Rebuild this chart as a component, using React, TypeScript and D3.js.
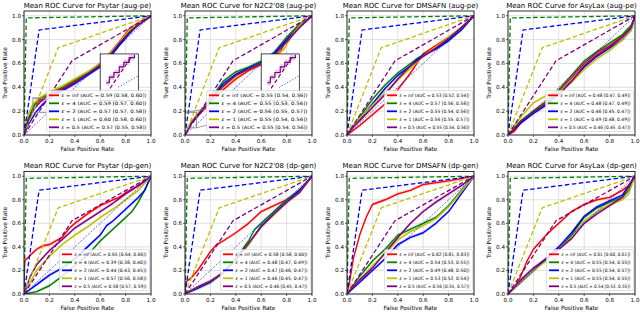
import React from 'react';
import * as d3 from 'd3';

type Pt = [number, number];

const epsilons = ['inf', '4', '2', '1', '0.5'];
const curveColors = ['#ff0000', '#008000', '#0000ff', '#bfbf00', '#800080'];
const axisTicks = [0, 0.2, 0.4, 0.6, 0.8, 1.0];
const datasets = ['Psytar', "N2C2'08", 'DMSAFN', 'AsyLax'];
const methods = ['aug-pe', 'dp-gen'];

// dashed DP bound lines for eps = 4, 2, 1, 0.5
const boundColors = ['#008000', '#0000ff', '#bfbf00', '#800080'];
const boundEps4: Pt[] = [[0, 0], [0.018, 0.982], [1, 1]];
const boundEps2: Pt[] = [[0, 0], [0.119, 0.881], [1, 1]];
const boundEps1: Pt[] = [[0, 0], [0.269, 0.731], [1, 1]];
const boundEps05: Pt[] = [[0, 0], [0.378, 0.622], [1, 1]];
const chanceLine: Pt[] = [[0, 0], [1, 1]];

// ---- aug-pe curves (inf, 4, 2, 1, 0.5)
const psytarAugPe: Pt[][] = [
  [[0, 0], [0.03, 0.12], [0.08, 0.24], [0.12, 0.29], [0.2, 0.34], [0.3, 0.39], [0.4, 0.45], [0.5, 0.52], [0.6, 0.6], [0.67, 0.68], [0.75, 0.78], [0.82, 0.88], [0.9, 0.94], [1, 1]],
  [[0, 0], [0.03, 0.13], [0.08, 0.25], [0.12, 0.3], [0.2, 0.35], [0.3, 0.4], [0.4, 0.46], [0.5, 0.52], [0.6, 0.59], [0.68, 0.67], [0.75, 0.76], [0.83, 0.87], [0.9, 0.93], [1, 1]],
  [[0, 0], [0.04, 0.1], [0.1, 0.2], [0.15, 0.26], [0.2, 0.31], [0.3, 0.37], [0.4, 0.43], [0.5, 0.5], [0.6, 0.57], [0.66, 0.63], [0.75, 0.75], [0.83, 0.85], [0.9, 0.93], [1, 1]],
  [[0, 0], [0.02, 0.14], [0.07, 0.26], [0.12, 0.31], [0.2, 0.36], [0.3, 0.41], [0.4, 0.47], [0.5, 0.53], [0.6, 0.6], [0.68, 0.69], [0.75, 0.78], [0.83, 0.88], [0.9, 0.94], [1, 1]],
  [[0, 0], [0.03, 0.11], [0.08, 0.22], [0.13, 0.28], [0.2, 0.33], [0.3, 0.38], [0.4, 0.44], [0.5, 0.51], [0.6, 0.58], [0.67, 0.66], [0.75, 0.77], [0.83, 0.86], [0.9, 0.92], [1, 1]],
];
const n2c2AugPe: Pt[][] = [
  [[0, 0], [0.05, 0.1], [0.1, 0.16], [0.2, 0.27], [0.3, 0.38], [0.4, 0.47], [0.5, 0.54], [0.6, 0.59], [0.7, 0.66], [0.75, 0.7], [0.8, 0.8], [0.9, 0.92], [1, 1]],
  [[0, 0], [0.05, 0.11], [0.1, 0.17], [0.2, 0.3], [0.3, 0.45], [0.4, 0.53], [0.5, 0.57], [0.6, 0.62], [0.7, 0.69], [0.8, 0.82], [0.9, 0.93], [1, 1]],
  [[0, 0], [0.05, 0.1], [0.1, 0.16], [0.2, 0.29], [0.3, 0.43], [0.4, 0.51], [0.5, 0.56], [0.6, 0.61], [0.7, 0.68], [0.8, 0.8], [0.9, 0.91], [1, 1]],
  [[0, 0], [0.05, 0.11], [0.1, 0.18], [0.2, 0.28], [0.3, 0.4], [0.4, 0.49], [0.5, 0.55], [0.6, 0.6], [0.7, 0.65], [0.78, 0.72], [0.85, 0.85], [0.93, 0.95], [1, 1]],
  [[0, 0], [0.05, 0.1], [0.1, 0.17], [0.2, 0.29], [0.3, 0.41], [0.4, 0.5], [0.5, 0.55], [0.6, 0.6], [0.7, 0.67], [0.8, 0.78], [0.9, 0.9], [1, 1]],
];
const dmsafnAugPe: Pt[][] = [
  [[0, 0], [0.05, 0.04], [0.1, 0.08], [0.2, 0.17], [0.3, 0.26], [0.4, 0.38], [0.5, 0.52], [0.55, 0.6], [0.6, 0.68], [0.7, 0.75], [0.8, 0.82], [0.9, 0.9], [1, 1]],
  [[0, 0], [0.05, 0.08], [0.1, 0.15], [0.2, 0.3], [0.3, 0.42], [0.4, 0.52], [0.5, 0.6], [0.55, 0.64], [0.6, 0.67], [0.7, 0.73], [0.8, 0.8], [0.9, 0.9], [1, 1]],
  [[0, 0], [0.05, 0.07], [0.1, 0.13], [0.2, 0.26], [0.3, 0.39], [0.4, 0.5], [0.5, 0.58], [0.55, 0.63], [0.6, 0.67], [0.7, 0.72], [0.8, 0.79], [0.9, 0.88], [1, 1]],
  [[0, 0], [0.05, 0.08], [0.1, 0.14], [0.2, 0.25], [0.3, 0.36], [0.4, 0.46], [0.5, 0.56], [0.55, 0.61], [0.6, 0.66], [0.7, 0.74], [0.8, 0.82], [0.9, 0.9], [1, 1]],
  [[0, 0], [0.05, 0.07], [0.1, 0.12], [0.2, 0.23], [0.3, 0.34], [0.4, 0.47], [0.5, 0.58], [0.55, 0.62], [0.6, 0.66], [0.7, 0.73], [0.8, 0.81], [0.9, 0.9], [1, 1]],
];
const asylaxAugPe: Pt[][] = [
  [[0, 0], [0.05, 0.03], [0.1, 0.1], [0.2, 0.2], [0.3, 0.28], [0.4, 0.37], [0.5, 0.48], [0.6, 0.6], [0.7, 0.69], [0.8, 0.75], [0.9, 0.83], [0.97, 0.9], [1, 1]],
  [[0, 0], [0.05, 0.06], [0.1, 0.12], [0.2, 0.2], [0.3, 0.27], [0.4, 0.38], [0.5, 0.5], [0.6, 0.62], [0.7, 0.7], [0.8, 0.77], [0.9, 0.84], [0.97, 0.92], [1, 1]],
  [[0, 0], [0.05, 0.05], [0.1, 0.1], [0.2, 0.18], [0.3, 0.25], [0.4, 0.35], [0.5, 0.45], [0.6, 0.57], [0.7, 0.66], [0.8, 0.73], [0.9, 0.8], [0.97, 0.88], [1, 1]],
  [[0, 0], [0.05, 0.08], [0.1, 0.15], [0.2, 0.27], [0.3, 0.33], [0.4, 0.36], [0.5, 0.44], [0.6, 0.55], [0.7, 0.64], [0.8, 0.71], [0.9, 0.8], [0.97, 0.88], [1, 1]],
  [[0, 0], [0.05, 0.05], [0.1, 0.11], [0.2, 0.19], [0.3, 0.26], [0.4, 0.34], [0.5, 0.45], [0.6, 0.58], [0.7, 0.67], [0.8, 0.74], [0.9, 0.82], [0.97, 0.9], [1, 1]],
];

// ---- dp-gen curves (inf, 4, 2, 1, 0.5)
const psytarDpGen: Pt[][] = [
  [[0, 0], [0.005, 0.28], [0.05, 0.33], [0.1, 0.38], [0.15, 0.41], [0.2, 0.42], [0.3, 0.48], [0.35, 0.55], [0.4, 0.6], [0.5, 0.68], [0.6, 0.75], [0.7, 0.8], [0.75, 0.82], [0.8, 0.86], [0.9, 0.92], [1, 1]],
  [[0, 0], [0.05, 0.01], [0.1, 0.02], [0.2, 0.07], [0.3, 0.15], [0.4, 0.24], [0.5, 0.33], [0.6, 0.45], [0.7, 0.55], [0.8, 0.65], [0.85, 0.7], [0.9, 0.78], [0.95, 0.88], [1, 1]],
  [[0, 0], [0.1, 0.08], [0.2, 0.16], [0.3, 0.22], [0.4, 0.3], [0.5, 0.4], [0.6, 0.5], [0.65, 0.58], [0.7, 0.62], [0.8, 0.72], [0.9, 0.82], [0.95, 0.88], [1, 1]],
  [[0, 0], [0.05, 0.1], [0.1, 0.2], [0.2, 0.32], [0.3, 0.42], [0.4, 0.5], [0.5, 0.57], [0.6, 0.65], [0.7, 0.72], [0.8, 0.8], [0.9, 0.88], [1, 1]],
  [[0, 0], [0.05, 0.15], [0.1, 0.25], [0.2, 0.37], [0.3, 0.46], [0.4, 0.56], [0.5, 0.63], [0.6, 0.7], [0.7, 0.77], [0.8, 0.85], [0.9, 0.92], [1, 1]],
];
const n2c2DpGen: Pt[][] = [
  [[0, 0], [0.005, 0.1], [0.05, 0.14], [0.1, 0.2], [0.2, 0.36], [0.25, 0.42], [0.3, 0.45], [0.4, 0.52], [0.5, 0.6], [0.6, 0.7], [0.7, 0.75], [0.8, 0.8], [0.9, 0.87], [1, 1]],
  [[0, 0], [0.1, 0.05], [0.2, 0.1], [0.3, 0.18], [0.4, 0.3], [0.5, 0.45], [0.55, 0.55], [0.6, 0.6], [0.7, 0.7], [0.8, 0.8], [0.9, 0.88], [1, 1]],
  [[0, 0], [0.1, 0.05], [0.2, 0.1], [0.3, 0.18], [0.4, 0.3], [0.5, 0.42], [0.55, 0.5], [0.6, 0.58], [0.7, 0.68], [0.8, 0.78], [0.9, 0.88], [1, 1]],
  [[0, 0], [0.1, 0.06], [0.2, 0.11], [0.3, 0.18], [0.4, 0.28], [0.5, 0.42], [0.6, 0.57], [0.7, 0.67], [0.8, 0.78], [0.9, 0.86], [1, 1]],
  [[0, 0], [0.1, 0.06], [0.2, 0.11], [0.3, 0.18], [0.4, 0.29], [0.5, 0.43], [0.6, 0.57], [0.7, 0.68], [0.8, 0.78], [0.9, 0.86], [1, 1]],
];
const dmsafnDpGen: Pt[][] = [
  [[0, 0], [0.02, 0.1], [0.05, 0.3], [0.1, 0.5], [0.15, 0.65], [0.2, 0.76], [0.3, 0.8], [0.4, 0.85], [0.5, 0.88], [0.6, 0.93], [0.8, 0.96], [1, 1]],
  [[0, 0], [0.1, 0.15], [0.2, 0.28], [0.3, 0.38], [0.4, 0.5], [0.5, 0.55], [0.6, 0.6], [0.7, 0.65], [0.8, 0.75], [0.9, 0.88], [1, 1]],
  [[0, 0], [0.1, 0.1], [0.2, 0.2], [0.3, 0.3], [0.4, 0.42], [0.5, 0.48], [0.6, 0.52], [0.7, 0.6], [0.8, 0.7], [0.9, 0.85], [1, 1]],
  [[0, 0], [0.1, 0.12], [0.2, 0.24], [0.3, 0.34], [0.4, 0.46], [0.5, 0.53], [0.6, 0.58], [0.7, 0.64], [0.8, 0.74], [0.9, 0.87], [1, 1]],
  [[0, 0], [0.1, 0.12], [0.2, 0.22], [0.3, 0.35], [0.4, 0.48], [0.5, 0.6], [0.6, 0.7], [0.7, 0.78], [0.8, 0.85], [0.9, 0.92], [1, 1]],
];
const asylaxDpGen: Pt[][] = [
  [[0, 0], [0.05, 0.05], [0.1, 0.15], [0.15, 0.28], [0.2, 0.38], [0.3, 0.5], [0.4, 0.6], [0.5, 0.7], [0.6, 0.76], [0.7, 0.8], [0.8, 0.82], [0.9, 0.88], [0.95, 0.92], [1, 1]],
  [[0, 0], [0.1, 0.1], [0.2, 0.2], [0.3, 0.29], [0.4, 0.38], [0.5, 0.5], [0.6, 0.65], [0.7, 0.73], [0.8, 0.78], [0.9, 0.82], [0.95, 0.88], [1, 1]],
  [[0, 0], [0.1, 0.1], [0.2, 0.2], [0.3, 0.3], [0.4, 0.4], [0.5, 0.52], [0.6, 0.66], [0.7, 0.74], [0.8, 0.79], [0.9, 0.84], [1, 1]],
  [[0, 0], [0.1, 0.1], [0.2, 0.2], [0.3, 0.28], [0.4, 0.38], [0.5, 0.48], [0.6, 0.62], [0.7, 0.7], [0.8, 0.76], [0.9, 0.8], [0.95, 0.85], [1, 1]],
  [[0, 0], [0.1, 0.12], [0.2, 0.22], [0.3, 0.3], [0.4, 0.38], [0.5, 0.47], [0.6, 0.6], [0.7, 0.68], [0.8, 0.75], [0.9, 0.82], [1, 1]],
];

// AUC legend texts
const psytarAugPeAuc = ['0.59 [0.58, 0.60]', '0.59 [0.57, 0.60]', '0.57 [0.57, 0.58]', '0.60 [0.58, 0.60]', '0.57 [0.55, 0.58]'];
const n2c2AugPeAuc = ['0.55 [0.54, 0.56]', '0.55 [0.53, 0.56]', '0.56 [0.55, 0.57]', '0.55 [0.54, 0.56]', '0.55 [0.54, 0.56]'];
const dmsafnAugPeAuc = ['0.53 [0.52, 0.54]', '0.57 [0.56, 0.58]', '0.55 [0.54, 0.56]', '0.56 [0.55, 0.57]', '0.55 [0.54, 0.56]'];
const asylaxAugPeAuc = ['0.48 [0.47, 0.49]', '0.48 [0.47, 0.49]', '0.46 [0.45, 0.47]', '0.49 [0.48, 0.49]', '0.46 [0.45, 0.47]'];
const psytarDpGenAuc = ['0.65 [0.64, 0.66]', '0.39 [0.38, 0.40]', '0.44 [0.43, 0.45]', '0.57 [0.56, 0.58]', '0.58 [0.57, 0.59]'];
const n2c2DpGenAuc = ['0.58 [0.58, 0.60]', '0.48 [0.47, 0.49]', '0.47 [0.46, 0.47]', '0.46 [0.45, 0.47]', '0.46 [0.45, 0.47]'];
const dmsafnDpGenAuc = ['0.82 [0.81, 0.83]', '0.54 [0.53, 0.55]', '0.49 [0.48, 0.50]', '0.53 [0.52, 0.54]', '0.56 [0.55, 0.57]'];
const asylaxDpGenAuc = ['0.61 [0.60, 0.61]', '0.55 [0.54, 0.55]', '0.55 [0.54, 0.57]', '0.55 [0.54, 0.55]', '0.54 [0.53, 0.55]'];

// zoomed inset traces (inset-local units)
const insetSolid: Pt[] = [[0.16, 0.38], [0.24, 0.38], [0.24, 0.5], [0.36, 0.5], [0.36, 0.6], [0.5, 0.6], [0.5, 0.72], [0.62, 0.72], [0.62, 0.82], [0.76, 0.82], [0.76, 0.92], [0.9, 0.92], [0.9, 0.98]];
const insetDashed: Pt[] = [[0.26, 0.26], [0.82, 0.94]];
const insetDiag: Pt[] = [[0.47, 0.28], [0.98, 0.52]];

const FONT = 'DejaVu Sans, sans-serif';
const plotW = 127;
const colX = [24, 185, 347, 508];
const rowBox = [{ top: 11, bottom: 135 }, { top: 171.5, bottom: 294 }];
const bandHalf = 0.015;

type PanelProps = {
  x0: number; top: number; bottom: number; title: string;
  curves: Pt[][]; aucs: string[]; legendW: number; inset?: { rect: number[] } ;
  id: string;
};

const Panel = ({ x0, top, bottom, title, curves, aucs, legendW, inset, id }: PanelProps) => {
  const x = d3.scaleLinear().domain([0, 1]).range([x0, x0 + plotW]);
  const y = d3.scaleLinear().domain([0, 1.04]).range([bottom, top]);
  const line = d3.line<Pt>().x(d => x(d[0])).y(d => y(d[1]));
  const band = d3.area<Pt>()
    .x(d => x(d[0]))
    .y0(d => y(Math.max(0, d[1] - bandHalf)))
    .y1(d => y(Math.min(1, d[1] + bandHalf)));
  const bounds = [boundEps4, boundEps2, boundEps1, boundEps05];

  const lgRight = x(1) - 1.5;
  const lgLeft = lgRight - legendW;
  const lgBottom = bottom - 3.5;
  const lgTop = lgBottom - 41;

  let insetEl = null;
  if (inset) {
    const [rx0, rx1, ry0, ry1] = inset.rect;
    const ix0 = x(0.6), ix1 = x(0.9), iy0 = y(0.29), iy1 = y(0.68);
    const ix = d3.scaleLinear().domain([0, 1]).range([ix0, ix1]);
    const iy = d3.scaleLinear().domain([0, 1]).range([iy0, iy1]);
    const iline = d3.line<Pt>().x(d => ix(d[0])).y(d => iy(d[1]));
    const iband = d3.area<Pt>().x(d => ix(d[0])).y0(d => iy(d[1] - 0.06)).y1(d => iy(d[1] + 0.06));
    insetEl = (
      <g>
        <rect x={x(rx0)} y={y(ry1)} width={x(rx1) - x(rx0)} height={y(ry0) - y(ry1)} fill="none" stroke="#808080" strokeWidth={0.8} />
        <line x1={x(rx0)} y1={y(ry1)} x2={ix0} y2={iy0} stroke="#808080" strokeWidth={0.8} />
        <line x1={x(rx1)} y1={y(ry0)} x2={ix1} y2={iy0} stroke="#808080" strokeWidth={0.8} />
        <clipPath id={`ic-${id}`}><rect x={ix0} y={iy1} width={ix1 - ix0} height={iy0 - iy1} /></clipPath>
        <rect x={ix0} y={iy1} width={ix1 - ix0} height={iy0 - iy1} fill="#fff" />
        <g clipPath={`url(#ic-${id})`}>
          <path d={iband(insetSolid) || ''} fill="#800080" fillOpacity={0.2} />
          <path d={iline(insetSolid) || ''} fill="none" stroke="#800080" strokeWidth={1.2} />
          <path d={iline(insetDashed) || ''} fill="none" stroke="#800080" strokeWidth={1.2} strokeDasharray="4,2.5" />
          <path d={iline(insetDiag) || ''} fill="none" stroke="#0000ff" strokeWidth={0.6} strokeDasharray="1.5,1.5" />
        </g>
        <rect x={ix0} y={iy1} width={ix1 - ix0} height={iy0 - iy1} fill="none" stroke="#000" strokeWidth={0.7} />
      </g>
    );
  }

  return (
    <g fontFamily={FONT}>
      <defs>
        <clipPath id={`pc-${id}`}><rect x={x(0)} y={top} width={plotW} height={bottom - top} /></clipPath>
      </defs>
      <rect x={x(0)} y={top} width={plotW} height={bottom - top} fill="#fff" />
      {axisTicks.map(t => (
        <g key={`g${t}`}>
          <line x1={x(t)} x2={x(t)} y1={top} y2={bottom} stroke="#d3d3d3" strokeWidth={0.7} />
          <line x1={x(0)} x2={x(1)} y1={y(t)} y2={y(t)} stroke="#d3d3d3" strokeWidth={0.7} />
        </g>
      ))}
      <g clipPath={`url(#pc-${id})`}>
        {curves.map((c, i) => (
          <path key={`b${i}`} d={band(c) || ''} fill={curveColors[i]} fillOpacity={0.18} />
        ))}
        {curves.map((c, i) => (
          <path key={`c${i}`} d={line(c) || ''} fill="none" stroke={curveColors[i]} strokeWidth={1.4} strokeLinejoin="round" />
        ))}
        {bounds.map((b, i) => (
          <path key={`d${i}`} d={line(b) || ''} fill="none" stroke={boundColors[i]} strokeWidth={1.3} strokeDasharray="4.5,2.5" />
        ))}
        <path d={line(chanceLine) || ''} fill="none" stroke="#0000ff" strokeWidth={0.6} strokeDasharray="2,1.5" />
        {insetEl}
      </g>
      <rect x={x(0)} y={top} width={plotW} height={bottom - top} fill="none" stroke="#000" strokeWidth={0.8} />
      {axisTicks.map(t => (
        <g key={`t${t}`} fontSize={5.6} fill="#000">
          <line x1={x(t)} x2={x(t)} y1={bottom} y2={bottom + 2} stroke="#000" strokeWidth={0.6} />
          <text x={x(t)} y={bottom + 7.5} textAnchor="middle">{d3.format('.1f')(t)}</text>
          <line x1={x(0) - 2} x2={x(0)} y1={y(t)} y2={y(t)} stroke="#000" strokeWidth={0.6} />
          <text x={x(0) - 3} y={y(t) + 2} textAnchor="end">{d3.format('.1f')(t)}</text>
        </g>
      ))}
      <text x={x(0.5)} y={bottom + 16} textAnchor="middle" fontSize={5.8}>False Positive Rate</text>
      <text transform={`translate(${x0 - 17},${(top + bottom) / 2}) rotate(-90)`} textAnchor="middle" fontSize={5.8}>True Positive Rate</text>
      <text x={x(0.5)} y={top - 3.5} textAnchor="middle" fontSize={7}>{title}</text>
      <rect x={lgLeft} y={lgTop} width={legendW} height={lgBottom - lgTop} rx={1.5} fill="#fff" fillOpacity={0.85} stroke="#cccccc" strokeWidth={0.6} />
      {aucs.map((a, i) => {
        const cy = lgTop + 4.8 + i * 8;
        return (
          <g key={`l${i}`}>
            <line x1={lgLeft + 2.5} x2={lgLeft + 12.5} y1={cy} y2={cy} stroke={curveColors[i]} strokeWidth={1.8} />
            <text x={lgLeft + 15} y={cy + 1.6} fontSize={4.6} textLength={legendW - 18} lengthAdjust="spacingAndGlyphs">
              <tspan fontStyle="italic">ε</tspan>{` = ${epsilons[i]} (AUC = ${a})`}
            </text>
          </g>
        );
      })}
    </g>
  );
};

const augCurves = [psytarAugPe, n2c2AugPe, dmsafnAugPe, asylaxAugPe];
const augAucs = [psytarAugPeAuc, n2c2AugPeAuc, dmsafnAugPeAuc, asylaxAugPeAuc];
const dpCurves = [psytarDpGen, n2c2DpGen, dmsafnDpGen, asylaxDpGen];
const dpAucs = [psytarDpGenAuc, n2c2DpGenAuc, dmsafnDpGenAuc, asylaxDpGenAuc];
const legendWidths = [[103, 104, 88, 88], [90, 90, 88, 87]];
const insetRects = [[0.07, 0.2, 0.19, 0.31], [0.0, 0.09, 0.06, 0.19]];

export default function App() {
  return (
    <svg width={640} height={312} style={{ position: 'absolute', left: 0, top: 0, background: '#fff' }}>
      {[augCurves, dpCurves].map((rowCurves, r) => rowCurves.map((c, k) => (
        <Panel
          key={`${r}-${k}`}
          id={`${r}-${k}`}
          x0={colX[k]}
          top={rowBox[r].top}
          bottom={rowBox[r].bottom}
          title={`Mean ROC Curve for ${datasets[k]} (${methods[r]})`}
          curves={c}
          aucs={(r === 0 ? augAucs : dpAucs)[k]}
          legendW={legendWidths[r][k]}
          inset={r === 0 && k < 2 ? { rect: insetRects[k] } : undefined}
        />
      )))}
    </svg>
  );
}
